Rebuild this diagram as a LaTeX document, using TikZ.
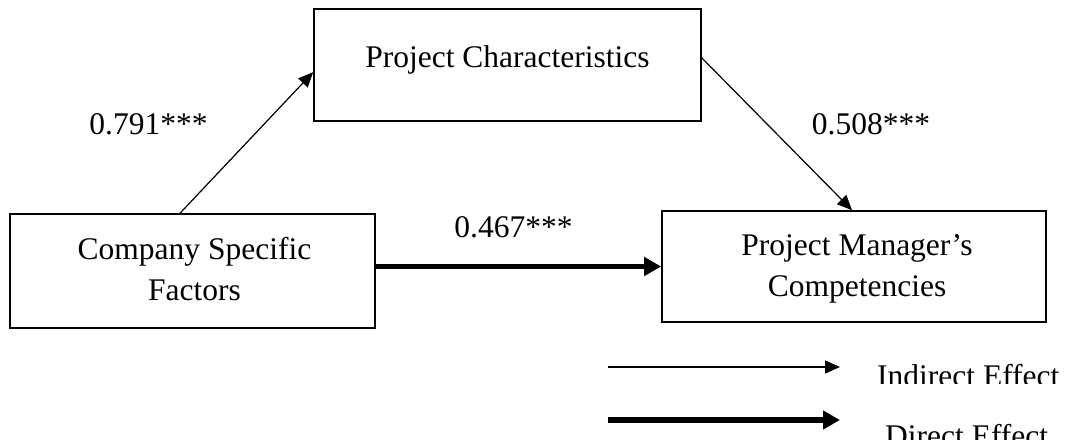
\documentclass[tikz,border=0pt]{standalone}
\usepackage{fontspec}
\setmainfont{Liberation Serif}
\usetikzlibrary{arrows.meta,calc}
\begin{document}
\begin{tikzpicture}[x=1pt,y=-1pt,
  box/.style={draw,line width=1.6pt,inner sep=0pt},
  txt/.style={font=\fontsize{31.5}{41}\selectfont,inner sep=0pt,anchor=base},
  indirectarrow/.style={line width=1.2pt,-{Triangle[length=15pt,width=13pt]}},
  directarrow/.style={line width=5.5pt,-{Triangle[length=17pt,width=18pt]}}]
\useasboundingbox (0,0) rectangle (1075,439);

% boxes
\node[box,minimum width=387pt,minimum height=112pt] (pc) at (507.5,65) {};
\node[box,minimum width=365pt,minimum height=114pt] (cf) at (192.5,271) {};
\node[box,minimum width=384pt,minimum height=111pt] (pm) at (854,266.5) {};

% box texts
\node[txt] (pct) at (507.5,67) {Project Characteristics};
\node[txt] (cft1) at (194.5,259) {Company Specific};
\node[txt] (cft2) at (194.5,300) {Factors};
\node[txt] (pmt1) at (857,255) {Project Manager’s};
\node[txt] (pmt2) at (857,296) {Competencies};

% paths
\draw[indirectarrow] ($(cf.north west)!0.466!(cf.north east)$) -- ($(pc.north west)!0.5625!(pc.south west)$);
\draw[indirectarrow] ($(pc.north east)!0.4375!(pc.south east)$) -- ($(pm.north west)!0.495!(pm.north east)$);
\draw[directarrow] (cf.east |- pm.west) -- (pm.west);

% coefficients
\node[txt] (c1) at (148.5,134) {0.791***};
\node[txt] (c2) at (871,134) {0.508***};
\node[txt] (c3) at (513.5,237) {0.467***};

% legend
\coordinate (i1) at (608,367);
\coordinate (i2) at (840,367);
\coordinate (d1) at (608,420);
\coordinate (d2) at (840,420);
\draw[indirectarrow] (i1) -- (i2);
\draw[directarrow] (d1) -- (d2);
\begin{scope}
  \clip (860,340) rectangle (1075,383);
  \node[txt,anchor=base west] (lgi) at (877,386) {Indirect Effect};
\end{scope}
\begin{scope}
  \clip (860,395) rectangle (1075,439);
  \node[txt,anchor=base west] (lgd) at (885,446) {Direct Effect};
\end{scope}
\end{tikzpicture}
\end{document}
